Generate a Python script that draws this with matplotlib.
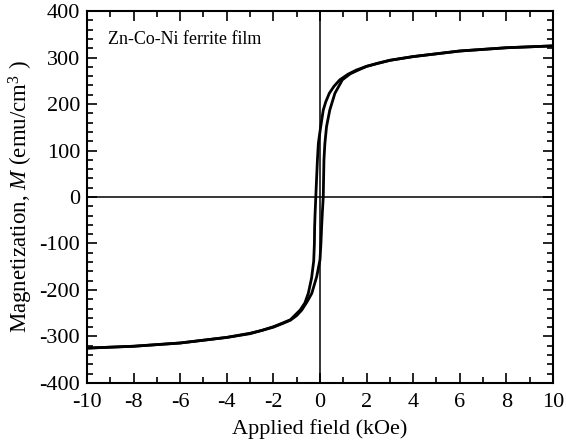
import matplotlib
matplotlib.use("Agg")
from matplotlib import pyplot as plt
from matplotlib.ticker import MultipleLocator

# descending branch (field swept +10 -> -10 kOe)
H_down = [10, 8, 6, 4, 3, 2, 1.56, 1.2, 0.85, 0.6, 0.4, 0.25, 0.14, 0.03, -0.03,
          -0.07, -0.11, -0.15, -0.18, -0.21, -0.23, -0.24, -0.27, -0.36, -0.5,
          -0.65, -0.85, -1.27, -1.6, -2.0, -2.5, -3, -4, -6, -8, -10]
M_down = [325, 321, 314, 302, 294, 281, 273, 264, 252, 238, 223, 205, 187, 151, 130,
          115, 80, 35, 0, -35, -64, -100, -138, -174, -207,
          -228, -243, -264, -271, -279, -287, -293, -302, -314, -321, -325]

# ascending branch (field swept -10 -> +10 kOe)
H_up = [-10, -8, -6, -4, -3, -2, -1.6, -1.27, -1.0, -0.78, -0.55, -0.35, -0.14, 0.0,
        0.04, 0.07, 0.1, 0.14, 0.155, 0.17, 0.21, 0.28, 0.42, 0.64, 0.96, 1.3,
        1.6, 2.0, 2.5, 3, 4, 6, 8, 10]
M_up = [-325, -321, -314, -302, -294, -280, -272, -265, -255, -243, -225, -207, -171, -135,
        -100, -64, -35, 0, 40, 80, 115, 151, 187, 223, 252, 265,
        272, 281, 288, 294, 302, 314, 321, 325]

plt.rcParams['font.family'] = ['Liberation Serif', 'DejaVu Serif']
plt.rcParams['mathtext.fontset'] = 'custom'
plt.rcParams['mathtext.rm'] = 'Liberation Serif'
plt.rcParams['mathtext.it'] = 'Liberation Serif:italic'

fig = plt.figure(figsize=(5.66, 4.46), dpi=100)
ax = fig.add_axes([0.1537, 0.1413, 0.8233, 0.834])

ax.axhline(0, color='black', lw=1.1, zorder=1)
ax.axvline(0, color='black', lw=1.1, zorder=1)
ax.plot(H_down, M_down, color='black', lw=2.0, solid_joinstyle='round', zorder=3)
ax.plot(H_up, M_up, color='black', lw=2.0, solid_joinstyle='round', zorder=3)

ax.set_xlim(-10, 10)
ax.set_ylim(-400, 400)
ax.xaxis.set_major_locator(MultipleLocator(2))
ax.xaxis.set_minor_locator(MultipleLocator(1))
ax.yaxis.set_major_locator(MultipleLocator(100))
ax.yaxis.set_minor_locator(MultipleLocator(20))
ax.tick_params(which='both', direction='in', top=True, right=True, width=1.2, labelsize=16)
ax.tick_params(which='major', length=7)
ax.tick_params(which='minor', length=4)
ax.tick_params(axis='x', which='major', pad=7)
ax.tick_params(axis='y', which='major', pad=5)
for s in ax.spines.values():
    s.set_linewidth(1.5)

ax.set_xticklabels([f"{int(v)}" for v in ax.get_xticks()])
ax.set_yticklabels([f"{int(v)}" for v in ax.get_yticks()])

ax.set_xlabel("Applied field (kOe)", fontsize=16, labelpad=5)
ax.set_ylabel("Magnetization, $M$ (emu/cm$^3$ )", fontsize=16.5, labelpad=3)
ax.text(-9.1, 338, "Zn-Co-Ni ferrite film", fontsize=13, va='center', ha='left')

fig.savefig("out.png", dpi=100)
